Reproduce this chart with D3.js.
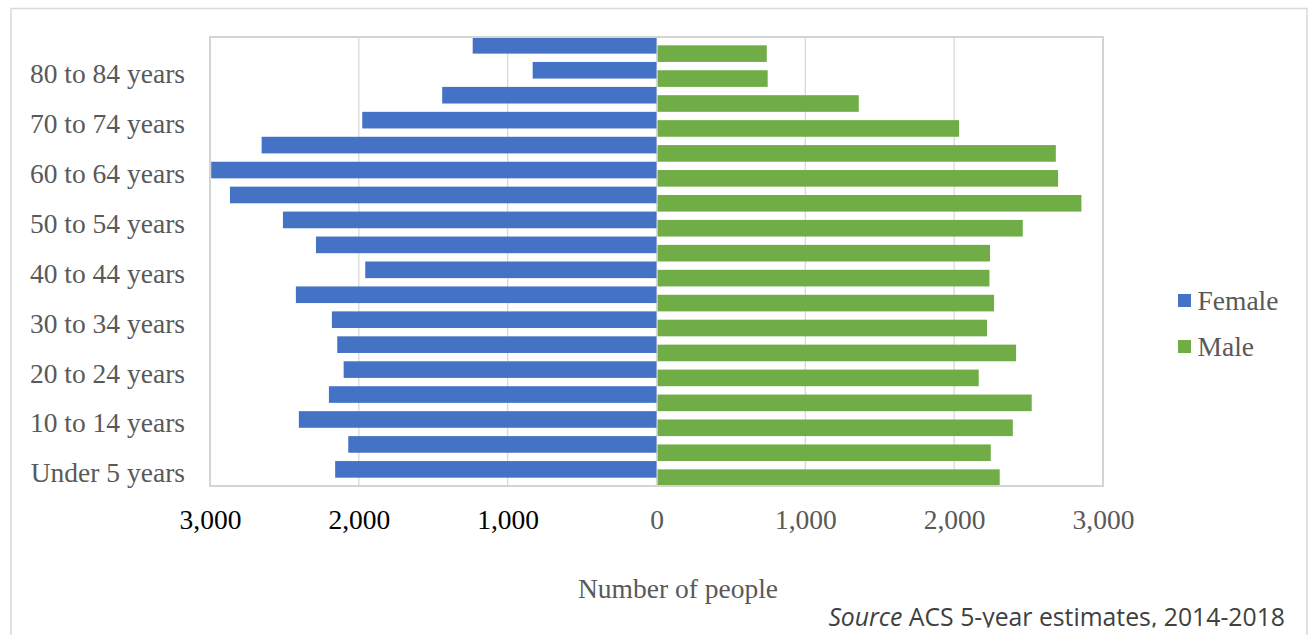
<!DOCTYPE html>
<html>
<head>
<meta charset="utf-8">
<script src="https://cdn.jsdelivr.net/npm/d3@7"></script>
<style>
    html, body { margin: 0; padding: 0; background: #fff; }
    svg { display: block; }
</style>
</head>
<body>
<main id="pyramid"></main>
<script>
// age groups, bottom to top like the source sheet
const ages = ["Under 5 years", "5 to 9 years", "10 to 14 years", "15 to 19 years", "20 to 24 years",
    "25 to 29 years", "30 to 34 years", "35 to 39 years", "40 to 44 years", "45 to 49 years",
    "50 to 54 years", "55 to 59 years", "60 to 64 years", "65 to 69 years", "70 to 74 years",
    "75 to 79 years", "80 to 84 years", "85 years and over"]
const female = [2159, 2071, 2403, 2201, 2102, 2145, 2181, 2423, 1957, 2288, 2510, 2866, 2992, 2653, 1977, 1440, 832, 1235]
const male = [2306, 2246, 2394, 2521, 2165, 2416, 2221, 2268, 2237, 2241, 2461, 2855, 2698, 2683, 2033, 1359, 747, 741]
const seriesNames = ["Female", "Male"]
const seriesColors = ["#4472C4", "#70AD47"]
const xTicks = [-3000, -2000, -1000, 0, 1000, 2000, 3000]

const drawPyramid = () => {

    var width = 1308,
        height = 635;
    const plot = ({ top: 37, right: 1103, bottom: 486, left: 210 })
    const serif = "'Liberation Serif', 'Times New Roman', serif"
    const gray = "#595959"

    var svg = d3.select("#pyramid").append("svg")
        .attr("width", width)
        .attr("height", height)

    // outer chart frame
    svg.append("rect")
        .attr("x", 11)
        .attr("y", 8.5)
        .attr("width", 1296)
        .attr("height", 640)
        .attr("fill", "none")
        .attr("stroke", "#d9d9d9")
        .attr("stroke-width", 1.5)

    // scales
    var x = d3.scaleLinear()
        .domain([-3000, 3000])
        .range([plot.left, plot.right])
    var y = d3.scaleBand()
        .domain(ages.slice().reverse())
        .range([plot.top, plot.bottom])
        .padding(0)

    // vertical gridlines
    svg.append("g")
        .selectAll("line")
        .data(xTicks)
        .enter()
        .append("line")
        .attr("x1", d => x(d))
        .attr("x2", d => x(d))
        .attr("y1", plot.top)
        .attr("y2", plot.bottom)
        .attr("stroke", "#d9d9d9")
        .attr("stroke-width", 1.3)

    // bars: female on top half of band, male shifted down (50% overlap, no gap)
    const rows = ages.map((a, i) => ({ age: a, female: female[i], male: male[i] }))
    const barH = y.bandwidth() * 2 / 3

    svg.append("g")
        .selectAll("rect")
        .data(rows)
        .enter()
        .append("rect")
        .attr("x", d => x(-d.female))
        .attr("y", d => y(d.age))
        .attr("width", d => x(0) - x(-d.female))
        .attr("height", barH)
        .attr("fill", seriesColors[0])

    svg.append("g")
        .selectAll("rect")
        .data(rows)
        .enter()
        .append("rect")
        .attr("x", x(0) + 1)
        .attr("y", d => y(d.age) + y.bandwidth() / 3)
        .attr("width", d => x(d.male) - x(0) - 1)
        .attr("height", barH)
        .attr("fill", seriesColors[1])

    // plot area border
    svg.append("rect")
        .attr("x", plot.left)
        .attr("y", plot.top)
        .attr("width", plot.right - plot.left)
        .attr("height", plot.bottom - plot.top)
        .attr("fill", "none")
        .attr("stroke", "#d4d4d4")
        .attr("stroke-width", 2)

    // y axis, every other label
    svg.append("g")
        .attr("transform", `translate(${plot.left},0)`)
        .call(d3.axisLeft(y).tickValues(ages.filter((d, i) => i % 2 === 0)).tickSize(0).tickPadding(25))
        .call(g => g.select(".domain").remove())
        .call(g => g.selectAll("text")
            .style("font-family", serif)
            .style("font-size", "27.5px")
            .attr("fill", gray))

    // x axis
    svg.append("g")
        .attr("transform", `translate(0,${plot.bottom})`)
        .call(d3.axisBottom(x).tickValues(xTicks).tickSize(0).tickPadding(23.5)
            .tickFormat(d => d3.format(",")(Math.abs(d))))
        .call(g => g.select(".domain").remove())
        .call(g => g.selectAll("text")
            .style("font-family", serif)
            .style("font-size", "27.5px")
            .attr("fill", d => d < 0 ? "#000" : gray))

    // axis title
    svg.append("text")
        .attr("x", 678)
        .attr("y", 598)
        .attr("text-anchor", "middle")
        .style("font-family", serif)
        .style("font-size", "27.5px")
        .attr("fill", gray)
        .text("Number of people")

    // legend
    var legend = svg.append("g")
        .selectAll("g")
        .data(seriesNames)
        .enter()
        .append("g")
        .attr("transform", (d, i) => `translate(1178,${294 + i * 46})`)
    legend.append("rect")
        .attr("width", 13)
        .attr("height", 13)
        .attr("fill", (d, i) => seriesColors[i])
    legend.append("text")
        .attr("x", 19.5)
        .attr("y", 16)
        .style("font-family", serif)
        .style("font-size", "27.5px")
        .attr("fill", gray)
        .text(d => d)

    // source note is cut off just under its baseline in the original
    svg.append("clipPath")
        .attr("id", "src-clip")
        .append("rect")
        .attr("x", 0)
        .attr("y", 0)
        .attr("width", width)
        .attr("height", 627.5)

    var source = svg.append("text")
        .attr("clip-path", "url(#src-clip)")
        .attr("x", 1285)
        .attr("y", 626)
        .attr("text-anchor", "end")
        .style("font-family", "'Open Sans', 'Noto Sans', sans-serif")
        .style("font-size", "22px")
        .attr("fill", "#404040")
    source.append("tspan").style("font-style", "italic").text("Source")
    source.append("tspan").text(" ACS 5-year estimates, 2014-2018")
    const w = source.node().getComputedTextLength()
    source.style("font-size", (22 * 457 / w) + "px")
}

drawPyramid()
</script>
</body>
</html>
